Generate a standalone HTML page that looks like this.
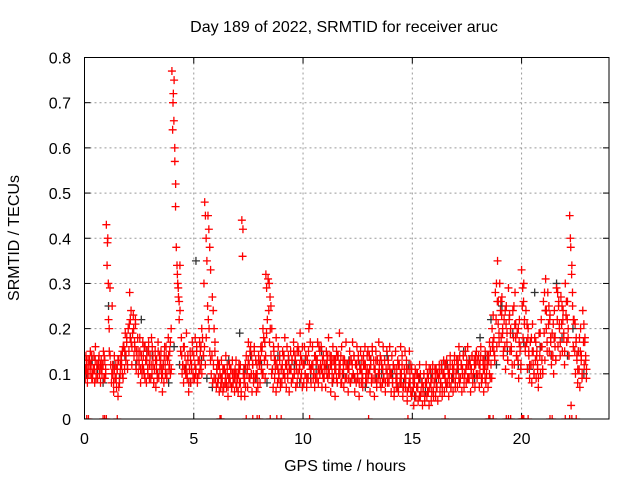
<!DOCTYPE html>
<html><head><meta charset="utf-8"><style>
body{margin:0;background:#fff}
svg{display:block;font-family:"Liberation Sans",sans-serif}
</style></head><body>
<svg id="chart" width="640" height="480">
<text x="344" y="32" font-size="16" text-anchor="middle">Day 189 of 2022, SRMTID for receiver aruc</text>
<text x="345" y="471" font-size="16" text-anchor="middle">GPS time / hours</text>
<text transform="translate(19,238) rotate(-90)" font-size="16" text-anchor="middle">SRMTID / TECUs</text>
<g id="grid"></g>
<g id="ticks"></g>
<defs><clipPath id="pc"><rect x="84.5" y="57" width="524.5" height="362"/></clipPath></defs>
<g id="marks" clip-path="url(#pc)"></g>
<rect x="84.5" y="57.5" width="524.5" height="361.5" fill="none" stroke="#000" stroke-width="1"/>
</svg>
<script>
const xTicks=[0,5,10,15,20];
const yTicks=[0,0.1,0.2,0.3,0.4,0.5,0.6,0.7,0.8];
const yTickLabels=["0","0.1","0.2","0.3","0.4","0.5","0.6","0.7","0.8"];
const redStep=0.1;
const redVals=[
[12,9,14],[11,8,13],[10,13,15],[12,9,10],[11,14,8],[16,10,12],[9,12,14],[11,8,13],[10,12,15],[14,9,11],
[43,34,40],[22,15,29],[12,8,25],[10,6,14],[9,12,7],[11,5,13],[8,10,14],[12,15,9],[16,11,19],[14,18,12],
[20,15,28],[22,17,12],[19,23,14],[16,21,11],[13,18,10],[12,15,8],[14,10,17],[11,16,9],[13,8,15],[10,17,12],
[14,9,18],[16,12,8],[11,15,7],[13,10,17],[9,14,12],[15,11,6],[12,8,16],[10,14,9],[13,18,11],[15,10,20],
[77,64,72],[75,57,47],[38,34,30],[27,22,34],[15,18,10],[12,8,16],[14,10,19],[9,13,6],[11,15,8],[12,17,10],
[14,9,18],[11,16,8],[13,10,17],[15,12,20],[18,14,30],[48,45,40],[35,25,22],[20,15,13],[10,14,8],[12,9,15],
[9,7,11],[8,12,6],[10,7,13],[9,6,11],[11,8,14],[7,10,5],[9,12,8],[11,7,13],[8,10,6],[10,13,7],
[9,6,12],[11,8,5],[44,36,10],[8,5,12],[14,10,7],[17,12,9],[16,10,6],[12,8,15],[9,13,6],[10,7,14],
[12,8,16],[15,10,20],[18,13,9],[32,29,22],[31,24,17],[20,14,10],[11,7,15],[9,13,6],[12,8,16],[10,14,7],
[11,8,15],[14,10,18],[12,7,16],[9,13,6],[11,15,8],[13,9,17],[10,14,7],[12,8,16],[15,11,19],[9,13,7],
[12,8,16],[10,14,7],[13,9,20],[21,11,8],[12,16,9],[10,7,14],[13,9,17],[8,11,15],[12,16,7],[10,14,9],
[11,7,15],[13,9,18],[10,14,6],[12,8,16],[9,13,5],[11,15,8],[14,10,19],[12,8,16],[10,13,7],[13,9,17],
[9,12,6],[11,15,8],[13,9,17],[10,14,6],[12,8,16],[9,13,5],[11,15,8],[10,7,14],[12,16,9],[8,11,15],
[10,14,6],[12,8,16],[9,13,5],[11,15,8],[13,9,17],[10,14,7],[12,8,16],[9,13,6],[11,15,8],[13,9,16],
[10,6,14],[8,12,5],[11,15,7],[9,13,6],[12,8,16],[10,14,5],[7,11,15],[9,13,4],[11,7,15],[8,12,5],
[6,9,3],[8,11,5],[7,10,4],[9,12,5],[6,8,3],[7,10,4],[8,12,5],[6,9,3],[7,11,4],[9,12,6],
[8,11,5],[7,10,4],[9,12,6],[8,11,5],[10,13,6],[9,12,7],[8,11,5],[10,14,7],[9,12,6],[11,14,7],
[10,13,7],[12,16,8],[9,12,6],[11,14,7],[10,15,8],[12,16,9],[9,13,6],[11,14,8],[10,13,7],[12,15,9],
[10,14,7],[12,16,8],[9,13,6],[11,15,8],[10,14,7],[13,17,9],[12,9,16],[23,18,14],[28,22,16],[35,26,19],
[30,24,18],[27,20,14],[22,16,11],[25,19,13],[29,22,15],[20,15,10],[24,18,12],[28,21,14],[19,13,9],[22,16,11],
[33,25,18],[30,22,15],[24,17,11],[20,14,9],[17,12,8],[21,15,10],[18,13,9],[15,11,7],[19,14,10],[22,16,11],
[26,19,13],[31,24,17],[28,21,15],[23,17,12],[19,14,10],[24,18,13],[29,22,16],[26,20,14],[27,21,15],[24,18,12],
[30,23,17],[26,20,14],[45,40,3],[34,25,16],[22,15,10],[18,13,8],[15,11,7],[20,14,9],[24,17,12],[18,13,9]
];
const red2Step=0.2;
const red2Vals=[
[11,13,10,12],[12,10,14,9],[11,13,9,12],[13,10,12,11],[12,9,13,10],[39,30,20,14],[10,12,8,11],[9,11,13,7],[12,14,10,16],[15,13,17,11],
[21,18,24,16],[20,17,22,15],[15,13,18,11],[12,14,10,16],[13,11,15,9],[12,10,14,8],[13,11,9,15],[11,13,9,10],[14,12,16,10],[14,12,17,11],
[70,66,60,52],[32,29,26,24],[14,12,16,11],[12,10,14,8],[13,11,15,9],[12,10,15,9],[13,11,16,10],[14,16,12,18],[45,42,38,33],[27,24,20,17],
[11,13,9,12],[9,8,11,7],[10,8,12,7],[9,11,7,10],[9,11,8,10],[10,8,12,6],[42,11,9,7],[11,13,9,15],[14,12,10,16],[10,12,8,13],
[13,11,16,10],[17,14,19,12],[30,27,25,20],[16,13,11,18],[11,9,13,8],[12,10,14,9],[12,10,14,11],[11,13,9,15],[13,11,15,10],[12,14,10,16],
[12,10,14,9],[15,12,17,11],[12,10,14,9],[13,11,16,10],[11,13,9,12],[12,10,14,11],[12,14,10,13],[11,13,9,14],[12,10,14,8],[11,13,9,12],
[11,9,13,8],[12,10,14,9],[12,10,14,8],[11,13,9,12],[12,10,14,9],[11,13,9,15],[11,9,13,7],[10,12,8,13],[11,9,13,8],[10,12,8,11],
[10,8,12,6],[9,11,7,12],[10,8,12,7],[9,7,11,6],[8,10,6,11],[7,9,5,10],[7,9,5,10],[8,6,10,5],[8,10,6,11],[8,6,10,5],
[9,11,7,10],[10,8,12,7],[10,12,8,13],[10,8,12,7],[11,9,13,8],[11,13,9,14],[12,10,14,9],[11,13,9,12],[12,10,14,9],[12,14,10,13],
[12,10,14,9],[11,13,9,12],[12,14,10,15],[20,17,15,13],[30,26,21,17],[26,23,19,15],[24,21,17,13],[23,19,16,12],[25,21,18,14],[20,17,15,12],
[29,26,21,16],[21,18,15,12],[18,15,12,10],[17,14,12,9],[19,16,13,10],[28,24,20,15],[25,22,18,14],[21,18,16,13],[28,25,21,17],[25,22,19,15],
[26,22,18,14],[38,32,28,22],[21,17,14,11],[18,15,13,10],[21,17,14,11]
];
const blackStep=0.5;
const blackVals=[[10,13],[11,8],[25,12],[9,14],[18,12],[22,15],[14,10],[12,8],[16,12],[11,8],[35,13],[9,7],[8,11],[13,9],[19,11],[14,9],[12,8],[11,14],[10,13],[12,8],[13,9],[11,15],[12,8],[14,10],[13,9],[12,7],[13,9],[10,14],[10,7],[8,12],[5,9],[6,10],[8,12],[12,9],[11,15],[13,9],[18,14],[22,12],[25,15],[19,12],[17,11],[28,16],[24,14],[30,18],[14,20],[15,10]];
const zeroTimes=[0.1,0.18,0.85,0.92,1.0,1.5,6.2,6.25,7.4,7.7,7.9,8.0,8.5,8.8,9.0,10.3,13.0,14.8,16.5,18.5,18.55,18.7,19.3,19.4,19.5,20.0,20.05,20.1,20.3,21.3,21.4,22.0,22.2,22.3,22.5];

const X0=84.5,X1=609,Y0=419,Y1=57.5;
const sx=h=>X0+(h/24)*(X1-X0);
const sy=v=>Y0-(v/0.8)*(Y0-Y1);
const NS="http://www.w3.org/2000/svg";
const grid=document.getElementById('grid'),ticks=document.getElementById('ticks'),marks=document.getElementById('marks'),svg=document.getElementById('chart');
function mk(tag,attrs,parent){const e=document.createElementNS(NS,tag);for(const k in attrs)e.setAttribute(k,attrs[k]);parent.appendChild(e);return e;}
xTicks.forEach(t=>{const x=sx(t);
 if(t>0){const g=mk('line',{x1:x,x2:x,y1:Y1,y2:Y0,stroke:'#999','stroke-dasharray':'2,3'},grid);}
 mk('line',{x1:x,x2:x,y1:Y0,y2:Y0-6,stroke:'#000'},ticks);mk('line',{x1:x,x2:x,y1:Y1,y2:Y1+6,stroke:'#000'},ticks);
 const l=mk('text',{x:x,y:444,'font-size':16,'text-anchor':'middle'},svg);l.textContent=t;
 });
yTicks.forEach((t,i)=>{const y=sy(t);
 if(t>0&&t<0.8){const g=mk('line',{x1:X0,x2:X1,y1:y,y2:y,stroke:'#999','stroke-dasharray':'2,3'},grid);}
 mk('line',{x1:X0,x2:X0+6,y1:y,y2:y,stroke:'#000'},ticks);mk('line',{x1:X1,x2:X1-6,y1:y,y2:y,stroke:'#000'},ticks);
 const l=mk('text',{x:71,y:y+6,'font-size':16,'text-anchor':'end'},svg);l.textContent=yTickLabels[i];
 });
function plus(h,v,col){const x=sx(h),y=sy(v);
 const p=mk('path',{d:`M${x-4},${y}H${x+4}M${x},${y-4}V${y+4}`,stroke:col,'stroke-width':1.3,fill:'none'},marks);
 
 }
blackVals.forEach((g,i)=>g.forEach((v,j)=>plus(i*blackStep+j*0.25+0.1,v/100,'#333')));
redVals.forEach((g,i)=>g.forEach((v,j)=>plus(i*redStep+j*0.033,v/100,'#f00')));
red2Vals.forEach((g,i)=>g.forEach((v,j)=>plus(i*red2Step+0.05+j*0.04,v/100,'#f00')));
zeroTimes.forEach(t=>plus(t,0,'#f00'));
</script>
</body></html>
